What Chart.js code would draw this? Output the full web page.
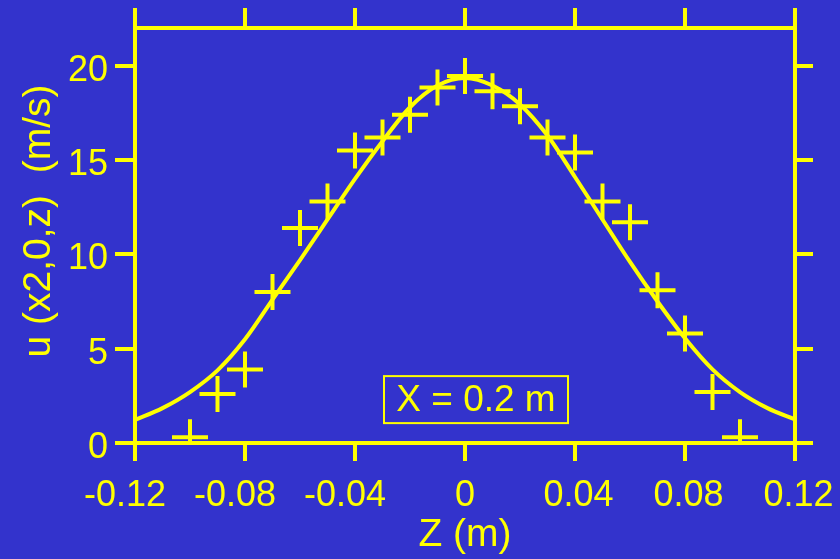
<!DOCTYPE html>
<html>
<head>
<meta charset="utf-8">
<script src="https://cdn.jsdelivr.net/npm/chart.js@4.4.1/dist/chart.umd.min.js"></script>
<style>
  html, body { margin: 0; padding: 0; background: #3333cc; }
  #wrap { width: 840px; height: 559px; }
</style>
</head>
<body>
<div id="wrap"><canvas id="profile"></canvas></div>
<script>
// measured velocity across the section (crosses)
const zMeasured = [-0.10, -0.09, -0.08, -0.07, -0.06, -0.05, -0.04, -0.03, -0.02, -0.01, 0,
                   0.01, 0.02, 0.03, 0.04, 0.05, 0.06, 0.07, 0.08, 0.09, 0.10];
const uMeasured = [0.3, 2.6, 3.9, 8.0, 11.4, 12.8, 15.5, 16.2, 17.4, 18.85, 19.45,
                   18.65, 17.85, 16.2, 15.4, 12.8, 11.7, 8.1, 5.8, 2.7, 0.3];

// computed profile (solid line)
const zProfile = [-0.12, -0.11, -0.10, -0.09, -0.08, -0.07, -0.06, -0.05, -0.04, -0.03, -0.02, -0.01, 0,
                  0.01, 0.02, 0.03, 0.04, 0.05, 0.06, 0.07, 0.08, 0.09, 0.10, 0.11, 0.12];
const uProfile = [1.22, 1.85, 2.7, 3.85, 5.5, 7.6, 9.7, 11.85, 14.0, 16.0, 17.8, 18.95, 19.35,
                  18.95, 17.95, 16.3, 14.1, 11.85, 9.6, 7.5, 5.55, 3.9, 2.7, 1.85, 1.25];

const zTicks = [-0.12, -0.08, -0.04, 0, 0.04, 0.08, 0.12];
// negative labels carry trailing spaces, positive ones a leading thin space,
// so the digits sit where the original plot put them
const zTickLabels = ['-0.12  ', '-0.08  ', '-0.04  ', '0', '\u20090.04', '\u20090.08', '\u20090.12'];
const uTicks = [0, 5, 10, 15, 20];
const uTickLabels = ['0', '5', '10', '15', '20'];

const xTitle = 'Z (m)';
const yTitle = 'u (x2,0,z)  (m/s)';
const noteText = 'X = 0.2 m';
const notePos = [0.004, 2.3];

const yellow = '#ffff00';
const fontFamily = '"Liberation Sans", Arial, Helvetica, sans-serif';

function toPoints(xs, ys) {
    let pts = [];
    for (let i = 0; i < xs.length; i++) {
        pts.push({x: xs[i], y: ys[i]});
    }
    return pts;
}

function fixedTicks(values) {
    return function(scale) {
        scale.ticks = values.map(function(v) { return {value: v}; });
    };
}

/**
 * one side of the frame: border line plus outward tick marks
 */
function frameAxis(position, range, values, labels, tickLength, size) {
    let horizontal = (position === 'top' || position === 'bottom');
    return {
        type: 'linear',
        position: position,
        min: range[0],
        max: range[1],
        afterBuildTicks: fixedTicks(values),
        afterFit: function(scale) {
            // fixed box sizes, and no extra room asked for the end labels
            if (horizontal) scale.height = size;
            else scale.width = size;
            scale.paddingLeft = 0;
            scale.paddingRight = 0;
            scale.paddingTop = 0;
            scale.paddingBottom = 0;
        },
        border: {display: true, color: yellow, width: 4},
        grid: {
            display: true,
            drawOnChartArea: false,
            drawTicks: true,
            tickLength: tickLength,
            color: yellow,
            lineWidth: 4
        },
        ticks: {
            display: labels !== null,
            color: yellow,
            autoSkip: false,
            maxRotation: 0,
            padding: horizontal ? 13 : 7,
            labelOffset: horizontal ? 0 : 5,
            font: {family: fontFamily, size: 36},
            callback: function(value, index) {
                return labels ? labels[index] : '';
            }
        }
    };
}

// y-axis title, sits a little above the middle of the axis
const sideTitle = {
    id: 'sideTitle',
    afterDraw: function(chart) {
        let ctx = chart.ctx;
        ctx.save();
        ctx.translate(39, 221);
        ctx.rotate(-Math.PI / 2);
        ctx.font = '39px ' + fontFamily;
        ctx.fillStyle = yellow;
        ctx.textAlign = 'center';
        ctx.textBaseline = 'middle';
        ctx.fillText(yTitle, 0, 0);
        ctx.restore();
    }
};

// boxed note inside the plot
const noteBox = {
    id: 'noteBox',
    afterDatasetsDraw: function(chart) {
        let ctx = chart.ctx;
        let cx = chart.scales.x.getPixelForValue(notePos[0]);
        let cy = chart.scales.y.getPixelForValue(notePos[1]);
        let w = 184, h = 47;
        ctx.save();
        ctx.strokeStyle = yellow;
        ctx.lineWidth = 2;
        ctx.strokeRect(cx - w / 2, cy - h / 2, w, h);
        ctx.font = '37px ' + fontFamily;
        ctx.fillStyle = yellow;
        ctx.textAlign = 'center';
        ctx.textBaseline = 'middle';
        ctx.fillText(noteText, cx, cy + 1);
        ctx.restore();
    }
};

let scaleX = frameAxis('bottom', [-0.12, 0.12], zTicks, zTickLabels, 18, 116);
scaleX.title = {
    display: true,
    text: xTitle,
    color: yellow,
    font: {family: fontFamily, size: 39},
    padding: {top: 0, bottom: 0}
};

let chartObject = {};
chartObject['type'] = 'scatter';
chartObject['data'] = {
    datasets: [
        {
            label: 'profile',
            data: toPoints(zProfile, uProfile),
            showLine: true,
            borderColor: yellow,
            borderWidth: 4,
            pointRadius: 0,
            cubicInterpolationMode: 'monotone',
            xAxisID: 'x',
            yAxisID: 'y'
        },
        {
            label: 'measured',
            data: toPoints(zMeasured, uMeasured),
            showLine: false,
            pointStyle: 'cross',
            pointRadius: 18,
            pointBorderWidth: 4,
            borderColor: yellow,
            backgroundColor: yellow,
            xAxisID: 'x',
            yAxisID: 'y'
        }
    ]
};
chartObject['options'] = {
    responsive: true,
    maintainAspectRatio: false,
    animation: false,
    layout: {padding: 0},
    plugins: {legend: {display: false}, tooltip: {enabled: false}},
    scales: {
        x: scaleX,
        y: frameAxis('left', [0, 22], uTicks, uTickLabels, 20, 135),
        x2: frameAxis('top', [-0.12, 0.12], zTicks, null, 20, 28),
        y2: frameAxis('right', [0, 22], uTicks, null, 18, 45)
    }
};
chartObject['plugins'] = [sideTitle, noteBox];

new Chart(document.getElementById('profile'), chartObject);
</script>
</body>
</html>
